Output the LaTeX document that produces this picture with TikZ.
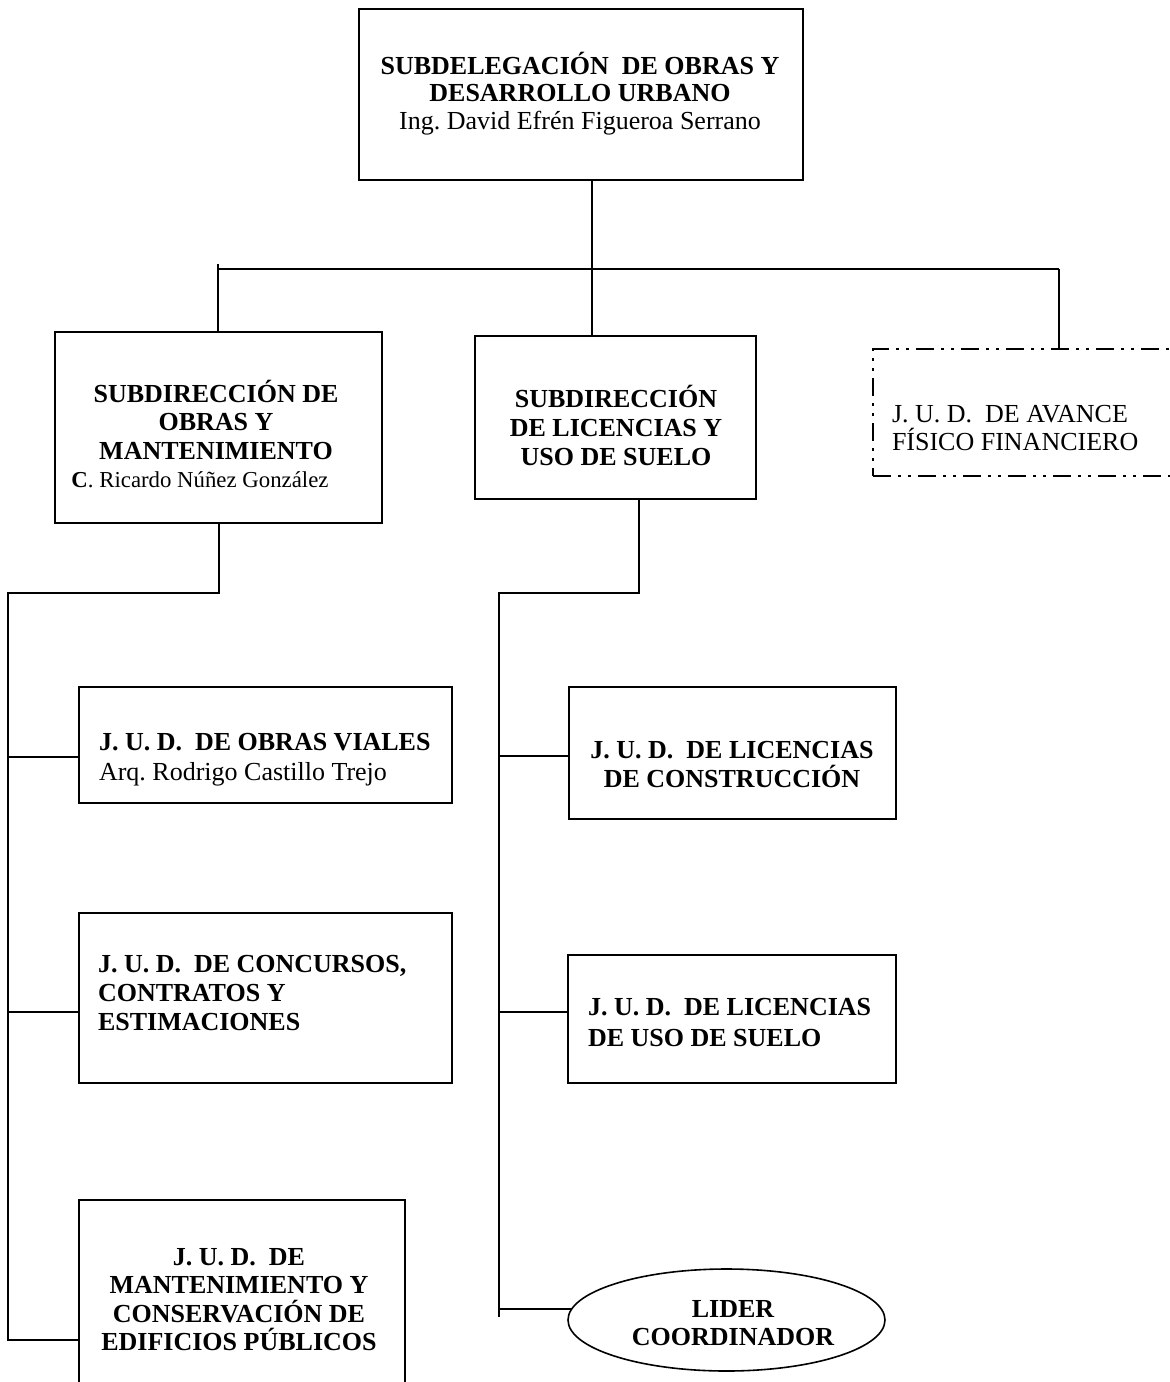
\documentclass[tikz,border=0pt]{standalone}
\usepackage{fontspec}
\setmainfont{Liberation Serif}
\usetikzlibrary{shapes.geometric}
\begin{document}
\frenchspacing
\begin{tikzpicture}[x=1pt,y=-1pt,line width=1.6pt,
  box/.style={draw,rectangle,inner sep=0pt,outer sep=0pt},
  dashbox/.style={draw,rectangle,inner sep=0pt,outer sep=0pt,line width=1.3pt,
    dash pattern=on 18pt off 7pt on 3pt off 7pt on 3pt off 7pt},
  ovalbox/.style={draw,ellipse,inner sep=0pt,outer sep=0pt},
  txt/.style={inner sep=0pt,outer sep=0pt,font=\fontsize{26}{28.5}\selectfont},
  conn/.style={draw,line width=1.6pt}]
\clip (0,0) rectangle (1170,1382);
\fill[white] (0,0) rectangle (1170,1382);

% boxes
\node[box,minimum width=444,minimum height=171] (top) at (581,94.5) {};
\node[box,minimum width=327,minimum height=191] (b1) at (218.5,427.5) {};
\node[box,minimum width=281,minimum height=163] (b2) at (615.5,417.5) {};
\node[dashbox,minimum width=327,minimum height=127] (jfin) at (1036.5,412.5) {};
\node[box,minimum width=373,minimum height=116] (b3) at (265.5,745) {};
\node[box,minimum width=373,minimum height=170] (b4) at (265.5,998) {};
\node[box,minimum width=326,minimum height=240] (b5) at (242,1320) {};
\node[box,minimum width=327,minimum height=132] (b6) at (732.5,753) {};
\node[box,minimum width=328,minimum height=128] (b7) at (732,1019) {};
\node[ovalbox,minimum width=317,minimum height=102] (lider) at (726.5,1320) {};

% texts
\node[txt,anchor=base] (ttop) at (580,74) {\parbox[t]{440pt}{\baselineskip=27.5pt\centering
  \textbf{SUBDELEGACIÓN\ \ DE OBRAS Y}\\\textbf{DESARROLLO URBANO}\\Ing. David Efrén Figueroa Serrano}};
\node[txt,anchor=base] (tb1) at (216,402) {\parbox[t]{420pt}{\baselineskip=28.5pt\centering
  \textbf{SUBDIRECCIÓN DE}\\\textbf{OBRAS Y}\\\textbf{MANTENIMIENTO}\\{\fontsize{22.8}{28.5}\selectfont\textbf{C}. Ricardo Núñez González}\hspace*{32pt}}};
\node[txt,anchor=base] (tb2) at (616,407) {\parbox[t]{276pt}{\baselineskip=29pt\centering\bfseries
  SUBDIRECCIÓN\\DE LICENCIAS Y\\USO DE SUELO}};
\node[txt,anchor=base west] (tfin) at (892,422) {\parbox[t]{300pt}{\baselineskip=28pt\raggedright
  J. U. D.\ \ DE AVANCE\\FÍSICO FINANCIERO}};
\node[txt,anchor=base west] (tb3) at (99,750) {\parbox[t]{350pt}{\baselineskip=30pt\raggedright
  \textbf{J. U. D.\ \ DE OBRAS VIALES}\\Arq. Rodrigo Castillo Trejo}};
\node[txt,anchor=base west] (tb4) at (98,972) {\parbox[t]{350pt}{\baselineskip=29pt\raggedright\bfseries
  J. U. D.\ \ DE CONCURSOS,\\CONTRATOS Y\\ESTIMACIONES}};
\node[txt,anchor=base] (tb5) at (239,1265) {\parbox[t]{320pt}{\baselineskip=28.5pt\centering\bfseries
  J. U. D.\ \ DE\\MANTENIMIENTO Y\\CONSERVACIÓN DE\\EDIFICIOS PÚBLICOS}};
\node[txt,anchor=base] (tb6) at (732,758) {\parbox[t]{320pt}{\baselineskip=29pt\centering\bfseries
  J. U. D.\ \ DE LICENCIAS\\DE CONSTRUCCIÓN}};
\node[txt,anchor=base west] (tb7) at (588,1015) {\parbox[t]{310pt}{\baselineskip=31pt\raggedright\bfseries
  J. U. D.\ \ DE LICENCIAS\\DE USO DE SUELO}};
\node[txt,anchor=base] (tlider) at (733,1317) {\parbox[t]{300pt}{\baselineskip=28pt\centering\bfseries
  LIDER\\COORDINADOR}};

% junction coordinates
\coordinate (jL) at (218,269);
\coordinate (jLt) at (218,264);
\coordinate (jC) at (592,269);
\coordinate (jR) at (1059,269);
\coordinate (k1) at (219,593);
\coordinate (k0) at (8,593);
\coordinate (m1) at (639,593);
\coordinate (m0) at (499,593);

% connectors
\draw[conn] (top.south -| jC) -- (b2.north -| jC);
\draw[conn] (jL) -- (jR);
\draw[conn] (jLt) -- (b1.north -| jL);
\draw[conn] (jR) -- (jfin.north -| jR);

\draw[conn] (b1.south -| k1) -- (k1) -- (k0) -- (k0 |- 0,1340) -- (b5.west |- 0,1340);
\draw[conn] (k0 |- 0,757) -- (b3.west |- 0,757);
\draw[conn] (k0 |- 0,1012) -- (b4.west |- 0,1012);

\draw[conn] (b2.south -| m1) -- (m1) -- (m0) -- (m0 |- 0,1317);
\draw[conn] (m0 |- 0,756) -- (b6.west |- 0,756);
\draw[conn] (m0 |- 0,1012) -- (b7.west |- 0,1012);
\draw[conn] (m0 |- lider.176.7) -- (lider.176.7);
\end{tikzpicture}
\end{document}
